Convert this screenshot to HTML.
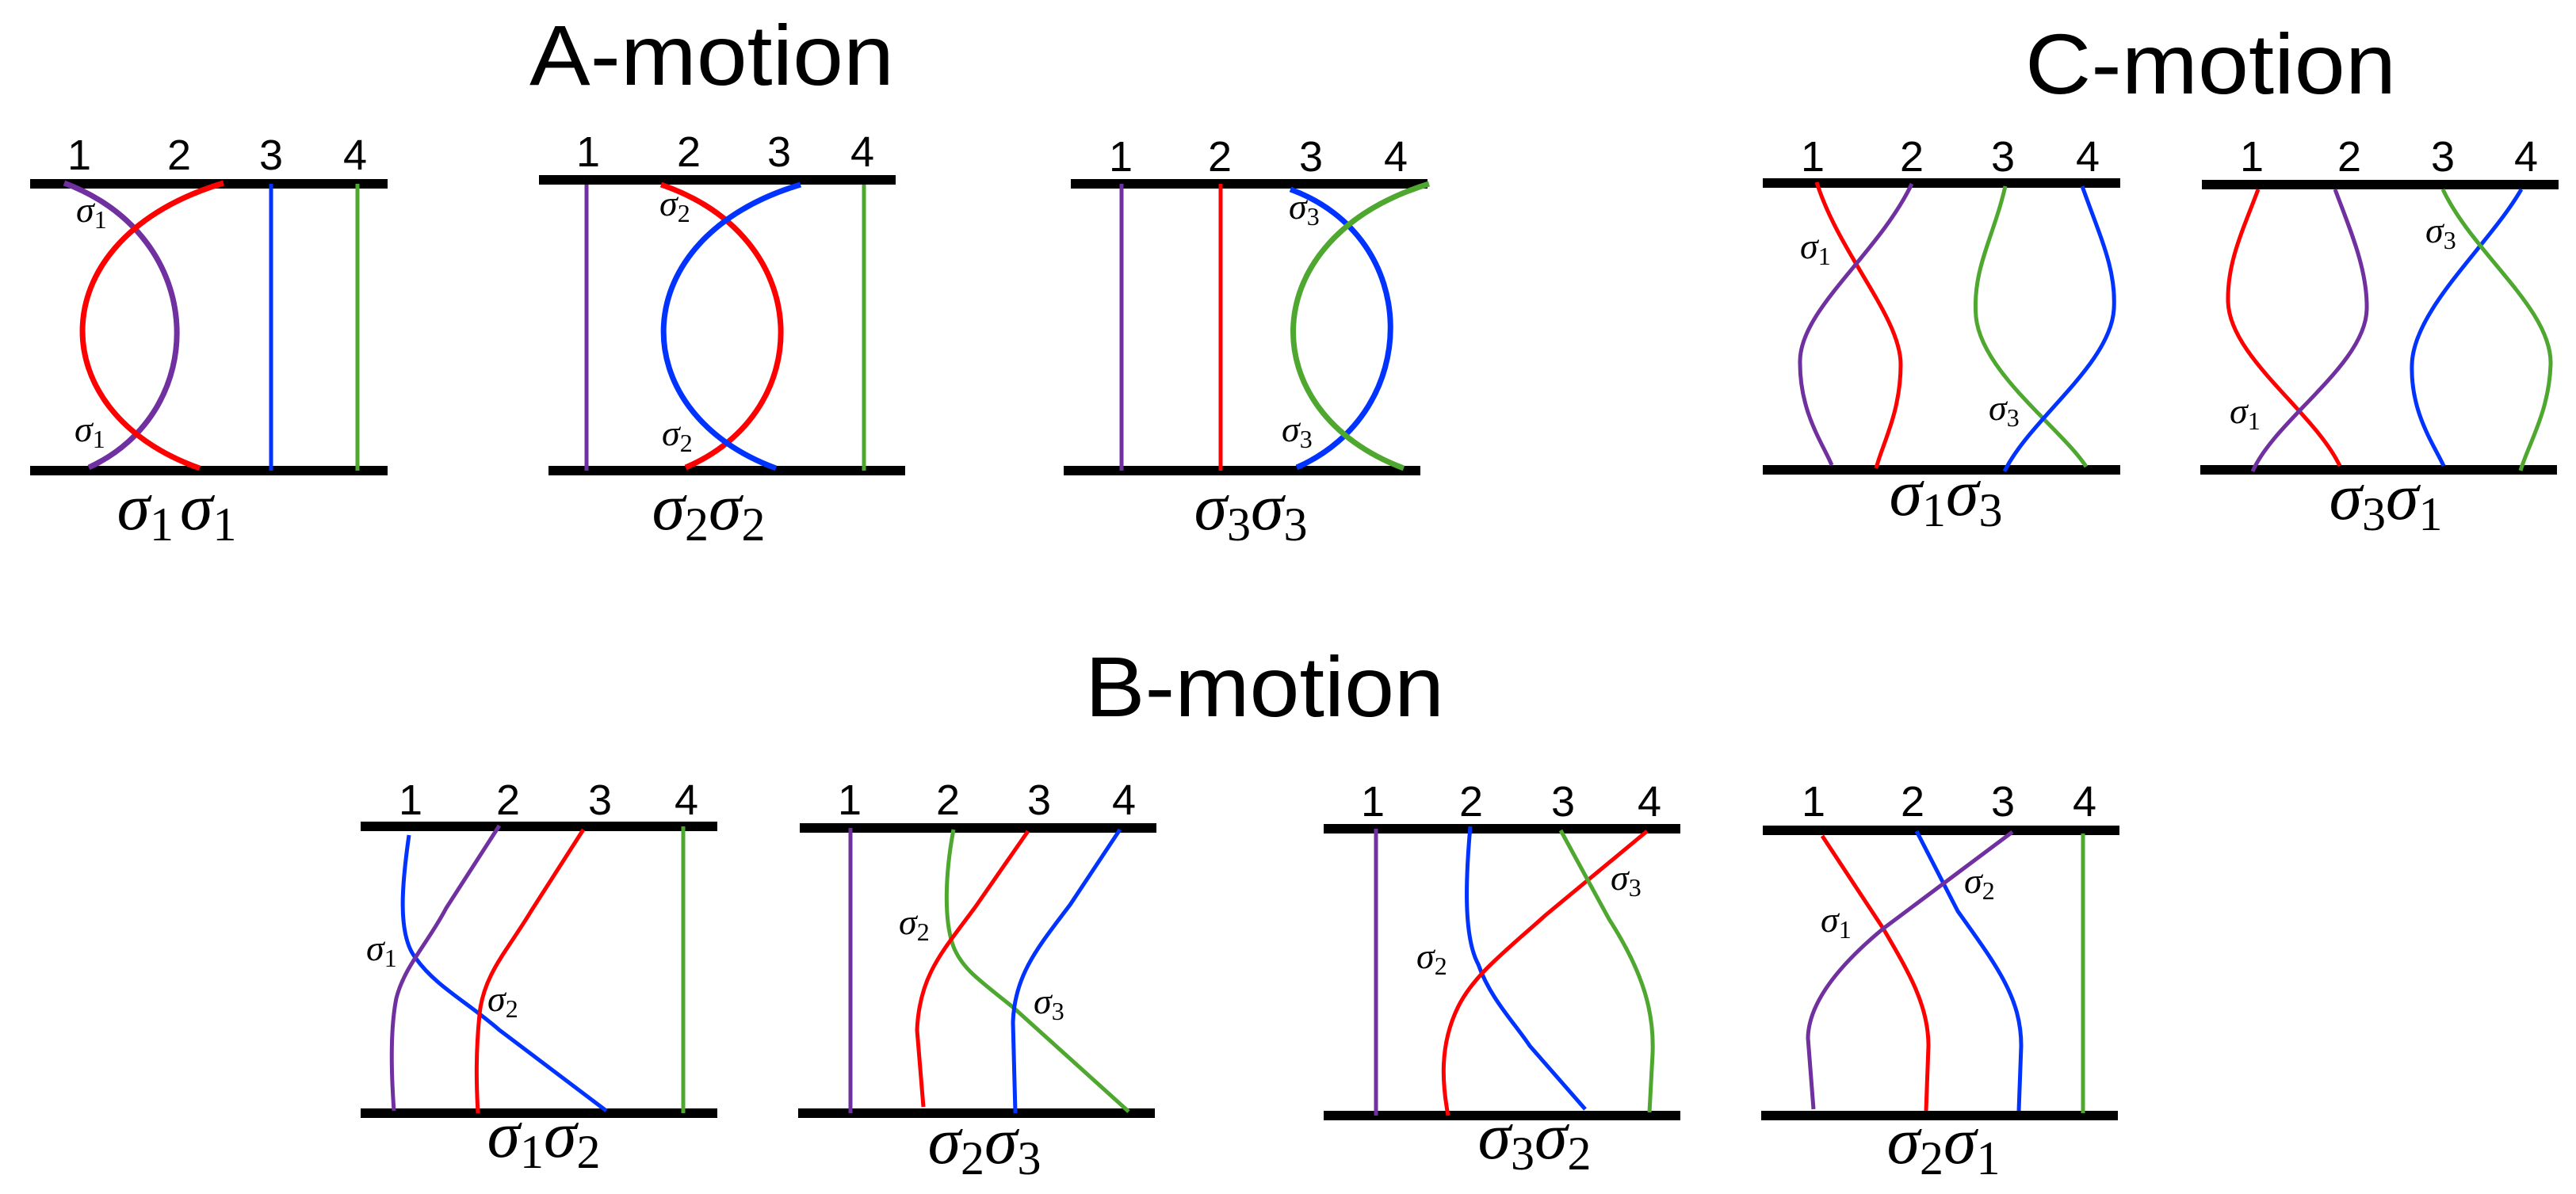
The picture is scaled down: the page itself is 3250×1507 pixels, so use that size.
<!DOCTYPE html>
<html><head><meta charset="utf-8"><style>
html,body{margin:0;padding:0;background:#fff;}
svg{display:block;}
.t{font-family:"Liberation Sans",sans-serif;}
.n{font-family:"Liberation Sans",sans-serif;font-size:54px;text-anchor:middle;}
.s{font-family:"Liberation Serif",serif;}
</style></head><body>
<svg width="3250" height="1507" viewBox="0 0 3250 1507" xmlns="http://www.w3.org/2000/svg">
<g fill="none" stroke-linecap="butt">
<text class="t" x="668" y="107" font-size="108" textLength="460" lengthAdjust="spacingAndGlyphs" fill="#000">A-motion</text>
<text class="t" x="2555" y="118" font-size="108" textLength="468" lengthAdjust="spacingAndGlyphs" fill="#000">C-motion</text>
<text class="t" x="1369" y="904" font-size="108" textLength="453" lengthAdjust="spacingAndGlyphs" fill="#000">B-motion</text>

<!-- A1 -->
<line x1="38" y1="232" x2="489" y2="232" stroke="#000" stroke-width="12"/>
<line x1="38" y1="594" x2="489" y2="594" stroke="#000" stroke-width="12"/>
<path d="M81,231 C265,300 265,520 112,590" stroke="#7030A0" stroke-width="7"/>
<path d="M282,231 C50,300 50,520 252,591" stroke="#FF0000" stroke-width="7"/>
<line x1="342" y1="232" x2="342" y2="594" stroke="#0033FF" stroke-width="5"/>
<line x1="451" y1="232" x2="451" y2="594" stroke="#4EA72E" stroke-width="5"/>

<!-- A2 -->
<line x1="680" y1="227" x2="1130" y2="227" stroke="#000" stroke-width="12"/>
<line x1="692" y1="594" x2="1142" y2="594" stroke="#000" stroke-width="12"/>
<line x1="740" y1="233" x2="740" y2="594" stroke="#7030A0" stroke-width="5"/>
<path d="M834,233 C1030,300 1030,520 865,590" stroke="#FF0000" stroke-width="7"/>
<path d="M1010,233 C785,300 785,520 979,591" stroke="#0033FF" stroke-width="7"/>
<line x1="1090" y1="233" x2="1090" y2="594" stroke="#4EA72E" stroke-width="5"/>

<!-- A3 -->
<line x1="1351" y1="232" x2="1801" y2="232" stroke="#000" stroke-width="12"/>
<line x1="1342" y1="594" x2="1792" y2="594" stroke="#000" stroke-width="12"/>
<line x1="1415" y1="232" x2="1415" y2="594" stroke="#7030A0" stroke-width="5"/>
<line x1="1540" y1="232" x2="1540" y2="594" stroke="#FF0000" stroke-width="5"/>
<path d="M1628,239 C1795,300 1795,520 1636,590" stroke="#0033FF" stroke-width="7"/>
<path d="M1803,232 C1580,300 1580,520 1771,591" stroke="#4EA72E" stroke-width="7"/>

<!-- C1 -->
<line x1="2224" y1="231" x2="2675" y2="231" stroke="#000" stroke-width="12"/>
<line x1="2224" y1="593" x2="2675" y2="593" stroke="#000" stroke-width="12"/>
<path d="M2292,230 C2320,320 2398,400 2398,460 C2398,520 2375,560 2367,591" stroke="#FF0000" stroke-width="5"/>
<path d="M2412,232 C2370,320 2272,390 2271,455 C2270,520 2300,560 2311,587" stroke="#7030A0" stroke-width="5"/>
<path d="M2530,235 C2515,300 2488,340 2493,400 C2500,470 2600,540 2632,589" stroke="#4EA72E" stroke-width="5"/>
<path d="M2627,235 C2650,300 2670,340 2667,390 C2663,460 2560,530 2529,595" stroke="#0033FF" stroke-width="5"/>

<!-- C2 -->
<line x1="2778" y1="233" x2="3228" y2="233" stroke="#000" stroke-width="12"/>
<line x1="2776" y1="593" x2="3226" y2="593" stroke="#000" stroke-width="12"/>
<path d="M2849,239 C2830,290 2810,330 2811,380 C2812,450 2920,520 2952,588" stroke="#FF0000" stroke-width="5"/>
<path d="M2946,239 C2965,290 2987,340 2986,390 C2985,460 2870,530 2842,595" stroke="#7030A0" stroke-width="5"/>
<path d="M3181,239 C3140,310 3045,390 3043,460 C3041,520 3070,560 3083,588" stroke="#0033FF" stroke-width="5"/>
<path d="M3082,239 C3120,320 3220,390 3218,460 C3216,520 3190,560 3180,594" stroke="#4EA72E" stroke-width="5"/>

<!-- B1 -->
<line x1="455" y1="1043" x2="905" y2="1043" stroke="#000" stroke-width="12"/>
<line x1="455" y1="1405" x2="905" y2="1405" stroke="#000" stroke-width="12"/>
<path d="M516,1054 C508,1110 500,1180 525,1210 C550,1245 590,1265 630,1300 L765,1402" stroke="#0033FF" stroke-width="5"/>
<path d="M630,1042 L563,1146 C540,1190 510,1220 500,1260 C492,1300 494,1360 497,1402" stroke="#7030A0" stroke-width="5"/>
<path d="M736,1047 L670,1150 C640,1200 610,1230 605,1280 C600,1330 601,1370 603,1405" stroke="#FF0000" stroke-width="5"/>
<line x1="862" y1="1043" x2="862" y2="1405" stroke="#4EA72E" stroke-width="5"/>

<!-- B2 -->
<line x1="1009" y1="1045" x2="1459" y2="1045" stroke="#000" stroke-width="12"/>
<line x1="1007" y1="1405" x2="1457" y2="1405" stroke="#000" stroke-width="12"/>
<line x1="1073" y1="1045" x2="1073" y2="1405" stroke="#7030A0" stroke-width="5"/>
<path d="M1203,1047 C1193,1100 1190,1160 1203,1195 C1215,1225 1240,1240 1280,1273 L1424,1403" stroke="#4EA72E" stroke-width="5"/>
<path d="M1297,1049 L1231,1144 C1190,1200 1160,1230 1157,1300 L1165,1397" stroke="#FF0000" stroke-width="5"/>
<path d="M1413,1047 L1350,1142 C1310,1195 1280,1230 1278,1290 L1281,1405" stroke="#0033FF" stroke-width="5"/>

<!-- B3 -->
<line x1="1670" y1="1046" x2="2120" y2="1046" stroke="#000" stroke-width="12"/>
<line x1="1670" y1="1408" x2="2120" y2="1408" stroke="#000" stroke-width="12"/>
<line x1="1736" y1="1046" x2="1736" y2="1408" stroke="#7030A0" stroke-width="5"/>
<path d="M1855,1043 C1850,1100 1845,1180 1865,1217 C1880,1260 1910,1290 1930,1320 L2000,1400" stroke="#0033FF" stroke-width="5"/>
<path d="M2078,1049 L1950,1155 C1900,1200 1860,1230 1840,1270 C1815,1320 1820,1370 1827,1408" stroke="#FF0000" stroke-width="5"/>
<path d="M1969,1048 L2030,1160 C2075,1230 2087,1280 2085,1330 L2081,1404" stroke="#4EA72E" stroke-width="5"/>

<!-- B4 -->
<line x1="2224" y1="1048" x2="2674" y2="1048" stroke="#000" stroke-width="12"/>
<line x1="2222" y1="1408" x2="2672" y2="1408" stroke="#000" stroke-width="12"/>
<path d="M2299,1055 L2376,1172 C2410,1230 2433,1270 2433,1320 L2430,1402" stroke="#FF0000" stroke-width="5"/>
<path d="M2418,1049 L2470,1150 C2520,1220 2550,1260 2550,1320 L2547,1402" stroke="#0033FF" stroke-width="5"/>
<path d="M2539,1050 L2376,1172 C2330,1210 2282,1260 2281,1310 L2288,1400" stroke="#7030A0" stroke-width="5"/>
<line x1="2628" y1="1052" x2="2628" y2="1405" stroke="#4EA72E" stroke-width="5"/>
</g>

<g fill="#000">
<g class="n">
<text x="100" y="214">1</text><text x="226" y="214">2</text><text x="342" y="214">3</text><text x="448" y="214">4</text>
<text x="742" y="210">1</text><text x="869" y="210">2</text><text x="983" y="210">3</text><text x="1088" y="210">4</text>
<text x="1414" y="216">1</text><text x="1539" y="216">2</text><text x="1654" y="216">3</text><text x="1761" y="216">4</text>
<text x="2287" y="216">1</text><text x="2412" y="216">2</text><text x="2527" y="216">3</text><text x="2634" y="216">4</text>
<text x="2841" y="216">1</text><text x="2964" y="216">2</text><text x="3082" y="216">3</text><text x="3187" y="216">4</text>
<text x="518" y="1028">1</text><text x="641" y="1028">2</text><text x="757" y="1028">3</text><text x="866" y="1028">4</text>
<text x="1072" y="1028">1</text><text x="1196" y="1028">2</text><text x="1311" y="1028">3</text><text x="1418" y="1028">4</text>
<text x="1732" y="1030">1</text><text x="1856" y="1030">2</text><text x="1972" y="1030">3</text><text x="2081" y="1030">4</text>
<text x="2288" y="1030">1</text><text x="2413" y="1030">2</text><text x="2527" y="1030">3</text><text x="2630" y="1030">4</text>
</g>

<g class="s" font-size="46">
<text x="96" y="280"><tspan font-style="italic">σ</tspan><tspan font-size="32" dy="8">1</tspan></text>
<text x="94" y="557"><tspan font-style="italic">σ</tspan><tspan font-size="32" dy="8">1</tspan></text>
<text x="832" y="272"><tspan font-style="italic">σ</tspan><tspan font-size="32" dy="8">2</tspan></text>
<text x="835" y="562"><tspan font-style="italic">σ</tspan><tspan font-size="32" dy="8">2</tspan></text>
<text x="1626" y="276"><tspan font-style="italic">σ</tspan><tspan font-size="32" dy="8">3</tspan></text>
<text x="1617" y="557"><tspan font-style="italic">σ</tspan><tspan font-size="32" dy="8">3</tspan></text>
<text x="2271" y="326"><tspan font-style="italic">σ</tspan><tspan font-size="32" dy="8">1</tspan></text>
<text x="2509" y="530"><tspan font-style="italic">σ</tspan><tspan font-size="32" dy="8">3</tspan></text>
<text x="3060" y="306"><tspan font-style="italic">σ</tspan><tspan font-size="32" dy="8">3</tspan></text>
<text x="2813" y="534"><tspan font-style="italic">σ</tspan><tspan font-size="32" dy="8">1</tspan></text>
<text x="462" y="1212"><tspan font-style="italic">σ</tspan><tspan font-size="32" dy="8">1</tspan></text>
<text x="615" y="1276"><tspan font-style="italic">σ</tspan><tspan font-size="32" dy="8">2</tspan></text>
<text x="1134" y="1179"><tspan font-style="italic">σ</tspan><tspan font-size="32" dy="8">2</tspan></text>
<text x="1304" y="1279"><tspan font-style="italic">σ</tspan><tspan font-size="32" dy="8">3</tspan></text>
<text x="2032" y="1123"><tspan font-style="italic">σ</tspan><tspan font-size="32" dy="8">3</tspan></text>
<text x="1787" y="1222"><tspan font-style="italic">σ</tspan><tspan font-size="32" dy="8">2</tspan></text>
<text x="2478" y="1127"><tspan font-style="italic">σ</tspan><tspan font-size="32" dy="8">2</tspan></text>
<text x="2297" y="1176"><tspan font-style="italic">σ</tspan><tspan font-size="32" dy="8">1</tspan></text>
</g>

<g class="s" font-size="84" text-anchor="middle">
<text x="223" y="668"><tspan font-style="italic">σ</tspan><tspan font-size="60" dy="14">1</tspan><tspan font-style="italic" dy="-14" dx="8">σ</tspan><tspan font-size="60" dy="14">1</tspan></text>
<text x="894" y="668"><tspan font-style="italic">σ</tspan><tspan font-size="60" dy="14">2</tspan><tspan font-style="italic" dy="-14">σ</tspan><tspan font-size="60" dy="14">2</tspan></text>
<text x="1578" y="668"><tspan font-style="italic">σ</tspan><tspan font-size="60" dy="14">3</tspan><tspan font-style="italic" dy="-14">σ</tspan><tspan font-size="60" dy="14">3</tspan></text>
<text x="2455" y="650"><tspan font-style="italic">σ</tspan><tspan font-size="60" dy="14">1</tspan><tspan font-style="italic" dy="-14">σ</tspan><tspan font-size="60" dy="14">3</tspan></text>
<text x="3010" y="655"><tspan font-style="italic">σ</tspan><tspan font-size="60" dy="14">3</tspan><tspan font-style="italic" dy="-14">σ</tspan><tspan font-size="60" dy="14">1</tspan></text>
<text x="686" y="1460"><tspan font-style="italic">σ</tspan><tspan font-size="60" dy="14">1</tspan><tspan font-style="italic" dy="-14">σ</tspan><tspan font-size="60" dy="14">2</tspan></text>
<text x="1242" y="1468"><tspan font-style="italic">σ</tspan><tspan font-size="60" dy="14">2</tspan><tspan font-style="italic" dy="-14">σ</tspan><tspan font-size="60" dy="14">3</tspan></text>
<text x="1936" y="1462"><tspan font-style="italic">σ</tspan><tspan font-size="60" dy="14">3</tspan><tspan font-style="italic" dy="-14">σ</tspan><tspan font-size="60" dy="14">2</tspan></text>
<text x="2452" y="1468"><tspan font-style="italic">σ</tspan><tspan font-size="60" dy="14">2</tspan><tspan font-style="italic" dy="-14">σ</tspan><tspan font-size="60" dy="14">1</tspan></text>
</g>
</g>
</svg>
</body></html>
